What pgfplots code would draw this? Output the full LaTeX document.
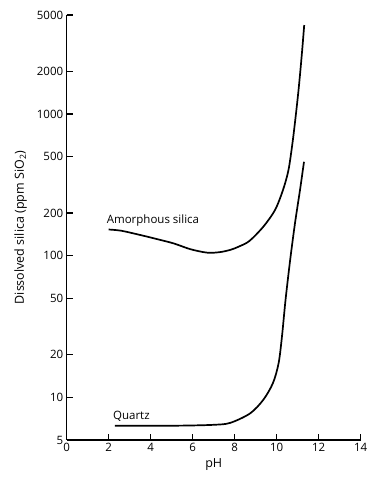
\documentclass[border=0pt]{standalone}
\usepackage{fontspec}
\setmainfont{Open Sans}
\usepackage{pgfplots}
\pgfplotsset{compat=1.18}
\begin{document}
\begin{tikzpicture}
\begin{axis}[
  at={(0,0)}, anchor=south west,
  scale only axis, width=294pt, height=425pt,
  xmin=0, xmax=14, ymin=5, ymax=5000,
  ymode=log,
  axis x line*=bottom, axis y line*=left,
  axis line style={-, line width=1.3pt},
  tick align=inside,
  major tick length=6pt,
  tick style={draw=black, line width=1.4pt},
  xtick={0,2,4,6,8,10,12,14},
  ytick={5,10,20,50,100,200,500,1000,2000,5000},
  yticklabels={5,10,20,50,100,200,500,1000,2000,5000},
  minor tick num=0,
  /pgf/number format/assume math mode=true,
  ticklabel style={font=\fontsize{11.5}{13}\selectfont},
  xlabel={pH}, ylabel={Dissolved silica (ppm SiO\textsubscript{2})},
  label style={font=\fontsize{12.5}{14}\selectfont},
  xlabel style={yshift=0pt},
  ylabel style={yshift=3pt},
  clip=false,
]
\addplot[black, line width=1.7pt, smooth, tension=0.5] coordinates {
(2.0,153) (2.6,150) (3.5,140) (4.3,131) (5.1,122) (5.9,111) (6.7,105) (7.3,106) (7.8,110) (8.2,116) (8.7,127) (9.36,160) (9.92,210) (10.30,291) (10.56,402) (10.75,622) (10.90,952) (11.04,1478) (11.16,2290) (11.24,3150) (11.31,4246)
};
\addplot[black, line width=1.7pt, smooth, tension=0.5] coordinates {
(2.3,6.3) (4,6.3) (5.6,6.32) (7.0,6.4) (7.78,6.6) (8.73,7.7) (9.36,9.6) (9.82,12.6) (10.09,17.4) (10.25,26.8) (10.42,48.6) (10.64,93) (10.87,169) (11.11,291) (11.30,460)
};
\node[anchor=west, inner sep=0pt, font=\fontsize{11.5}{13}\selectfont] at (axis cs:1.9,178) {Amorphous silica};
\node[anchor=west, inner sep=0pt, font=\fontsize{11.5}{13}\selectfont] at (axis cs:2.2,7.4) {Quartz};
\end{axis}
\pgfresetboundingbox
\path[use as bounding box] (-66.7pt,-37pt) rectangle (301.3pt,440pt);
\end{tikzpicture}
\end{document}
